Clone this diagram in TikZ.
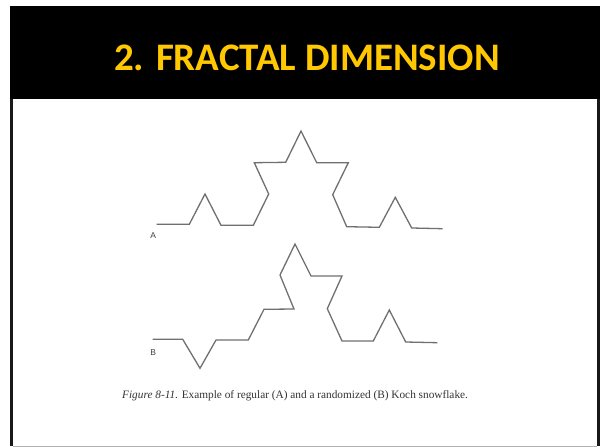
\documentclass[tikz,border=0pt]{standalone}
\usepackage{fontspec}
\newfontfamily\titlefont{Carlito}
\newfontfamily\capfont{Liberation Serif}
\newfontfamily\lblfont{Liberation Sans}
\definecolor{titleyellow}{HTML}{FFC800}
\definecolor{curvegray}{HTML}{707070}
\begin{document}
\begin{tikzpicture}[x=1pt,y=-1pt,
  koch/.style={draw=curvegray,line width=1.3pt,line join=miter},
  lbl/.style={font=\lblfont\fontsize{8.5}{9}\selectfont,text=black!75,inner sep=0pt},
  captext/.style={font=\capfont\fontsize{11.3}{13}\selectfont,text=black!80,inner sep=0pt,anchor=west}]
\useasboundingbox (0,0) rectangle (600,447);
\fill[white] (0,0) rectangle (600,447);
% frame
\fill[black] (10,6) rectangle (600,99);
\fill[black!90] (10,99) rectangle (13,446);
\fill[black!90] (597,99) rectangle (600,446);
\draw[black!30,line width=1pt] (13,446) -- (597,446);
\node[font=\titlefont\bfseries\fontsize{39}{42}\selectfont,text=titleyellow,inner sep=0pt] (title) at (307,58) {2. FRACTAL DIMENSION};
% curve A
\draw[koch] (156.7,224.3) -- (189.3,224.3) -- (205,194) -- (221,225.3) -- (253.3,225.3)
  -- (268.7,194) -- (254.3,162.7) -- (285.7,162.3) -- (301,131) -- (316.7,162.7)
  -- (348.3,162.7) -- (332.7,194.7) -- (346.7,226.7) -- (379.3,227.3) -- (395.3,197.3)
  -- (411.7,228) -- (442.7,228.7);
\node[lbl] (la) at (153.3,236) {A};
% curve B
\draw[koch] (152.7,339.3) -- (182.7,339.3) -- (200,368.3) -- (216,340) -- (248.3,340)
  -- (264,309.3) -- (294,309) -- (280,275) -- (295,244) -- (311,276)
  -- (342,276) -- (327.3,308.7) -- (342,341) -- (373.3,341) -- (389.3,310)
  -- (405.7,342) -- (437.3,342.7);
\node[lbl] (lb) at (153.3,352.7) {B};
% caption
\node[captext] (caption) at (122,396) {\itshape Figure 8-11\upshape. Example of regular (A) and a randomized (B) Koch snowflake.};
\end{tikzpicture}
\end{document}
